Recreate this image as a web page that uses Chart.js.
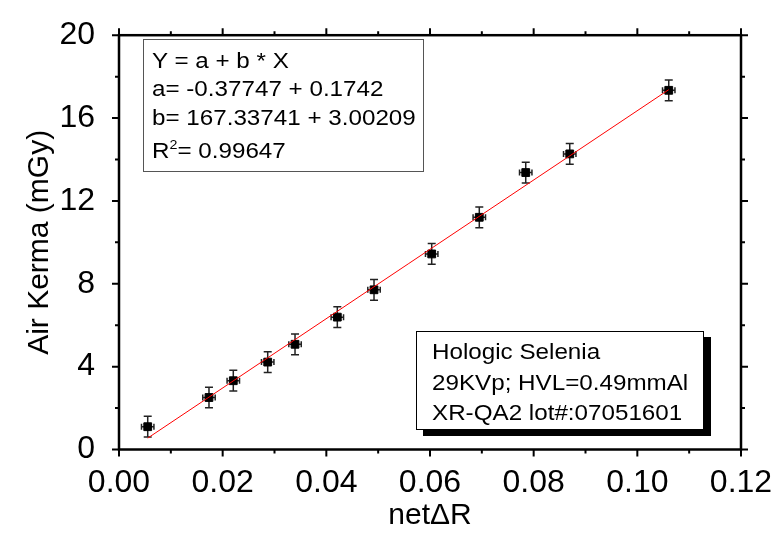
<!DOCTYPE html>
<html>
<head>
<meta charset="utf-8">
<script src="https://cdn.jsdelivr.net/npm/chart.js@4.4.1/dist/chart.umd.min.js"></script>
<style>
    body { margin: 0; background: #fff; }
    .wrap { position: relative; width: 782px; height: 539px; font-family: Arial, "Liberation Sans", sans-serif; color: #000; }
    .box { position: absolute; background: #fff; box-sizing: border-box; white-space: nowrap; }
    .box div { transform: scaleX(1.1); transform-origin: left center; }
    .fit-box { left: 143px; top: 39px; width: 281px; height: 133px; border: 1px solid #555; padding: 7px 0 0 8px; font-size: 22px; line-height: 28.3px; }
    .fit-box .r2 { margin-top: 5px; }
    .fit-box sup { font-size: 13px; line-height: 0; vertical-align: 9px; }
    .info-box { left: 416px; top: 331px; width: 288px; height: 99px; border: 1px solid #000; padding: 5px 0 0 15px; font-size: 22px; line-height: 30.7px; box-shadow: 7px 6px 0 #000; }
</style>
</head>
<body>
<div class="wrap">
    <canvas id="chart" width="782" height="539"></canvas>
    <div class="box fit-box">
        <div>Y = a + b * X</div>
        <div>a= -0.37747 + 0.1742</div>
        <div>b= 167.33741 + 3.00209</div>
        <div class="r2">R<sup>2</sup>= 0.99647</div>
    </div>
    <div class="box info-box">
        <div>Hologic Selenia</div>
        <div>29KVp; HVL=0.49mmAl</div>
        <div>XR-QA2 lot#:07051601</div>
    </div>
</div>
<script>
// medições: netΔR x kerma no ar
const netDeltaR = [0.00554, 0.01736, 0.02205, 0.02869, 0.03396, 0.04212, 0.0492, 0.06033, 0.06951, 0.07847, 0.08696, 0.10606];
const kerma = [1.10, 2.51, 3.32, 4.22, 5.08, 6.39, 7.71, 9.44, 11.21, 13.37, 14.27, 17.34];
const errX = [0.0012, 0.0012, 0.0012, 0.0012, 0.0012, 0.0012, 0.0012, 0.0012, 0.0012, 0.0012, 0.0012, 0.0012];
const errY = [0.5, 0.5, 0.5, 0.5, 0.5, 0.5, 0.5, 0.5, 0.5, 0.5, 0.5, 0.5];

// ajuste linear Y = a + b * X
const fitA = -0.37747;
const fitB = 167.33741;

const xTicks = [0, 0.02, 0.04, 0.06, 0.08, 0.10, 0.12];
const yTicks = [0, 4, 8, 12, 16, 20];

const fonte = 'Arial, "Liberation Sans", sans-serif';

let xMin = Math.min(...netDeltaR);
let xMax = Math.max(...netDeltaR);
let linhaAjuste = [
    { x: xMin, y: fitA + fitB * xMin },
    { x: xMax, y: fitA + fitB * xMax },
];
let pontos = netDeltaR.map((x, i) => ({ x: x, y: kerma[i] }));

// barras de erro desenhadas sob os marcadores
const barrasErro = {
    id: 'barrasErro',
    beforeDatasetsDraw(chart) {
        let ctx = chart.ctx;
        let sx = chart.scales.x, sy = chart.scales.y;
        ctx.save();
        ctx.strokeStyle = '#222';
        ctx.lineWidth = 1.5;
        pontos.forEach((p, i) => {
            let cx = sx.getPixelForValue(p.x);
            let cy = sy.getPixelForValue(p.y);
            let x0 = sx.getPixelForValue(p.x - errX[i]);
            let x1 = sx.getPixelForValue(p.x + errX[i]);
            let y0 = sy.getPixelForValue(p.y - errY[i]);
            let y1 = sy.getPixelForValue(p.y + errY[i]);
            ctx.beginPath();
            ctx.moveTo(cx, y0); ctx.lineTo(cx, y1);
            ctx.moveTo(cx - 4, y0); ctx.lineTo(cx + 4, y0);
            ctx.moveTo(cx - 4, y1); ctx.lineTo(cx + 4, y1);
            ctx.moveTo(x0, cy); ctx.lineTo(x1, cy);
            ctx.moveTo(x0, cy - 3); ctx.lineTo(x0, cy + 3);
            ctx.moveTo(x1, cy - 3); ctx.lineTo(x1, cy + 3);
            ctx.stroke();
        });
        ctx.restore();
    }
};

// moldura fechada com marcas nos quatro lados
const moldura = {
    id: 'moldura',
    afterDraw(chart) {
        let ctx = chart.ctx;
        let a = chart.chartArea;
        let sx = chart.scales.x, sy = chart.scales.y;
        ctx.save();
        ctx.strokeStyle = '#000';
        ctx.lineWidth = 2.5;
        ctx.strokeRect(a.left, a.top, a.right - a.left, a.bottom - a.top);
        ctx.lineWidth = 2;
        ctx.beginPath();
        for (let i = 0; i <= 12; i++) {
            let px = sx.getPixelForValue(i * 0.01);
            let len = i % 2 === 0 ? 7 : 4;
            ctx.moveTo(px, a.bottom); ctx.lineTo(px, a.bottom + len);
            ctx.moveTo(px, a.top); ctx.lineTo(px, a.top - len);
        }
        for (let i = 0; i <= 10; i++) {
            let py = sy.getPixelForValue(i * 2);
            let len = i % 2 === 0 ? 7 : 4;
            ctx.moveTo(a.left, py); ctx.lineTo(a.left - len, py);
            ctx.moveTo(a.right, py); ctx.lineTo(a.right + len, py);
        }
        ctx.stroke();
        ctx.restore();
    }
};

new Chart(document.getElementById('chart'), {
    type: 'scatter',
    data: {
        datasets: [
            {
                type: 'line',
                label: 'Ajuste',
                data: linhaAjuste,
                borderColor: '#ff0000',
                borderWidth: 1,
                pointRadius: 0,
                fill: false,
            },
            {
                label: 'Kerma',
                data: pontos,
                pointStyle: 'rect',
                pointRadius: 5.5,
                backgroundColor: '#000',
                borderColor: '#000',
                borderWidth: 1,
            },
        ]
    },
    options: {
        responsive: false,
        animation: false,
        layout: { padding: { top: 21, right: 41, left: 0, bottom: 0 } },
        plugins: {
            legend: { display: false },
            tooltip: { enabled: false },
        },
        scales: {
            x: {
                type: 'linear',
                min: 0,
                max: 0.12,
                afterBuildTicks: scale => { scale.ticks = xTicks.map(v => ({ value: v })); },
                afterFit: scale => { scale.height = 89.5; },
                grid: { display: false },
                border: { display: false },
                ticks: {
                    color: '#000',
                    font: { family: fonte, size: 32 },
                    padding: 6,
                    maxRotation: 0,
                    autoSkip: false,
                    callback: v => v.toFixed(2),
                },
                title: {
                    display: true,
                    text: 'netΔR',
                    color: '#000',
                    font: { family: fonte, size: 30 },
                    padding: { top: 0, bottom: 5 },
                },
            },
            y: {
                type: 'linear',
                min: 0,
                max: 20,
                afterBuildTicks: scale => { scale.ticks = yTicks.map(v => ({ value: v })); },
                afterFit: scale => { scale.width = 119; },
                grid: { display: false },
                border: { display: false },
                ticks: {
                    color: '#000',
                    font: { family: fonte, size: 32 },
                    padding: 16,
                },
                title: {
                    display: true,
                    text: 'Air Kerma (mGy)',
                    color: '#000',
                    font: { family: fonte, size: 30 },
                    padding: { top: 22, bottom: 0 },
                },
            },
        }
    },
    plugins: [barrasErro, moldura]
});
</script>
</body>
</html>
